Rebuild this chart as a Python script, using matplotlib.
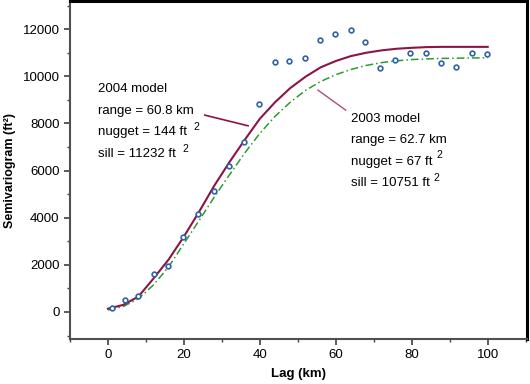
import matplotlib

matplotlib.use("Agg")
import matplotlib.pyplot as plt
from matplotlib.ticker import MultipleLocator

plt.rcParams["font.family"] = ["Liberation Sans", "DejaVu Sans"]

# Experimental semivariogram points (lag km, ft^2)
lag_pts = [1.0, 4.6, 7.8, 12.1, 15.8, 19.7, 23.8, 27.9, 31.8, 35.9, 39.8, 44.0, 47.7,
           51.8, 55.8, 59.8, 64.0, 67.7, 71.7, 75.7, 79.6, 83.7, 87.7, 91.6, 95.8, 99.7]
gamma_pts = [170, 496, 680, 1600, 1950, 3180, 4170, 5130, 6200, 7210, 8810, 10600, 10640,
             10790, 11560, 11790, 11970, 11460, 10340, 10690, 10970, 10970, 10550, 10380,
             11010, 10930]

# Fitted model curves
lag_curve = [0, 4, 8, 12, 16, 20, 24, 28, 32, 36, 40, 44, 48, 52, 56, 60, 64, 68, 72,
             76, 80, 84, 88, 92, 96, 100]
model_2004 = [140, 300, 650, 1420, 2230, 3200, 4250, 5360, 6360, 7300, 8200, 8900, 9500,
              9980, 10380, 10650, 10860, 11000, 11100, 11170, 11210, 11240, 11250, 11250,
              11250, 11250]
model_2003 = [80, 230, 560, 1150, 1920, 2900, 3880, 4880, 5820, 6740, 7580, 8300, 8900,
              9400, 9780, 10070, 10290, 10460, 10580, 10660, 10710, 10740, 10760, 10770,
              10780, 10790]

text_2004 = ["2004 model", "range = 60.8 km", "nugget = 144 ft", "sill = 11232 ft"]
text_2003 = ["2003 model", "range = 62.7 km", "nugget = 67 ft", "sill = 10751 ft"]

MAROON = "#8c1446"
GREEN = "#2e9a2e"
BLUE = "#2f62a8"

fig = plt.figure(figsize=(5.3, 3.84), dpi=100)
ax = fig.add_axes([0.132, 0.117, 0.862, 0.88])

ax.plot(lag_curve, model_2003, color=GREEN, lw=1.1, ls=(0, (5, 2, 1, 2)))
ax.plot(lag_curve, model_2004, color=MAROON, lw=1.5)
ax.plot(lag_pts, gamma_pts, ls="none", marker="o", ms=3.4, mfc="white",
        mec=BLUE, mew=1.2)

ax.set_xlim(-10, 110.3)
ax.set_ylim(-1150, 13190)
ax.xaxis.set_major_locator(MultipleLocator(20))
ax.xaxis.set_minor_locator(MultipleLocator(10))
ax.yaxis.set_major_locator(MultipleLocator(2000))
ax.yaxis.set_minor_locator(MultipleLocator(1000))
ax.set_xticks([0, 20, 40, 60, 80, 100])
ax.tick_params(which="major", direction="out", length=4, width=1.2, labelsize=9.5,
               color="#404040")
ax.tick_params(which="minor", direction="out", length=2.5, width=1.0, color="#404040")

for side in ("left", "bottom"):
    ax.spines[side].set_color("#505050")
    ax.spines[side].set_linewidth(1.5)
for side in ("top", "right"):
    ax.spines[side].set_color("black")
    ax.spines[side].set_linewidth(2.2)

ax.set_xlabel("Lag (km)", fontsize=9.5, fontweight="bold", labelpad=5)
ax.set_ylabel("Semivariogram (ft²)", fontsize=9, fontweight="bold", labelpad=5)

# annotations
for i, line in enumerate(text_2004):
    ax.text(-2.6, 9457 - i * 915, line, fontsize=9.5, va="center", ha="left")
for i, line in enumerate(text_2003):
    ax.text(63.9, 8185 - i * 905, line, fontsize=9.5, va="center", ha="left")

# superscripts placed after a gap, as in the original
ax.text(23.2, 7845, "2", fontsize=7.5, va="center", ha="center")
ax.text(20.3, 6900, "2", fontsize=7.5, va="center", ha="center")
ax.text(87.4, 6660, "2", fontsize=7.5, va="center", ha="center")
ax.text(86.5, 5670, "2", fontsize=7.5, va="center", ha="center")

ax.plot([25.5, 36.9], [8354, 7900], color=MAROON, lw=1.2)
ax.plot([55.3, 62.6], [9415, 8566], color="#a8507a", lw=1.0)

fig.savefig("out.png", dpi=100)
